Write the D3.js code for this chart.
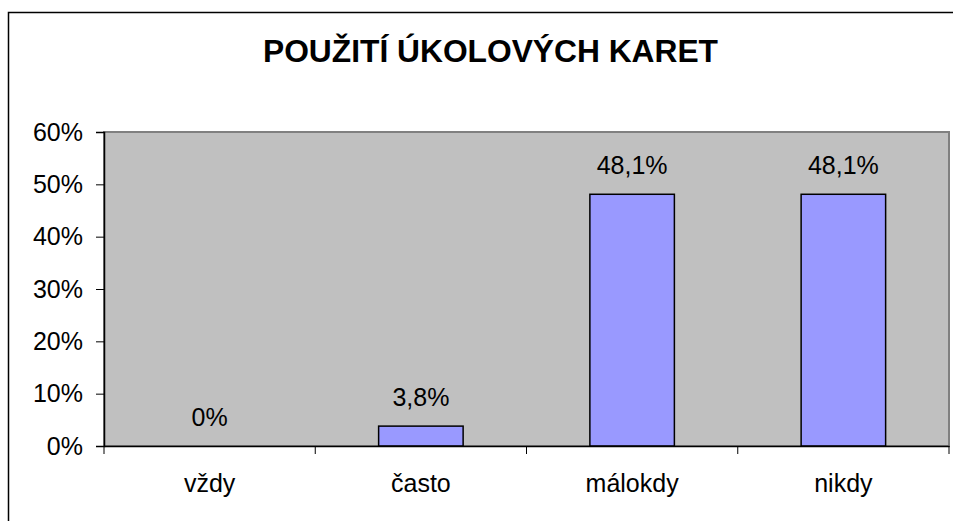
<!DOCTYPE html>
<html><head><meta charset="utf-8">
<script src="https://cdn.jsdelivr.net/npm/d3@7"></script>
<style>html,body{margin:0;padding:0;background:#fff;}svg{display:block;font-family:"Liberation Sans",Arial,sans-serif;}</style>
</head><body>
<svg id="c" width="953" height="521"></svg>
<script>
const categories = ["vždy", "často", "málokdy", "nikdy"];
const values = [0, 3.8, 48.1, 48.1];
const valueLabels = ["0%", "3,8%", "48,1%", "48,1%"];
const yTicks = [0, 10, 20, 30, 40, 50, 60];
const title = "POUŽITÍ ÚKOLOVÝCH KARET";

const svg = d3.select("#c");
const m = {left: 104, right: 949, top: 132, bottom: 446};
const FONT = "Liberation Sans, Arial, sans-serif";

// outer chart border
svg.append("rect").attr("x", 8.5).attr("y", 12.5).attr("width", 960).attr("height", 530)
  .attr("fill", "#fff").attr("stroke", "#000").attr("stroke-width", 1.5);

svg.append("text").attr("x", 490.5).attr("y", 62).attr("text-anchor", "middle")
  .attr("font-size", 32).attr("font-weight", "bold").attr("fill", "#000")
  .attr("textLength", 455).attr("lengthAdjust", "spacingAndGlyphs").text(title);

const x = d3.scaleBand().domain(categories).range([m.left, m.right]).paddingInner(0).paddingOuter(0);
const y = d3.scaleLinear().domain([0, 60]).range([m.bottom, m.top]);

// plot area
svg.append("rect").attr("x", m.left).attr("y", m.top).attr("width", m.right - m.left).attr("height", m.bottom - m.top)
  .attr("fill", "#C0C0C0").attr("stroke", "#808080").attr("stroke-width", 2);

const bw = x.bandwidth() / 2.5;
svg.selectAll("rect.bar").data(values).enter().append("rect").attr("class", "bar")
  .attr("x", (d, i) => x(categories[i]) + x.bandwidth() / 2 - bw / 2)
  .attr("y", d => y(d))
  .attr("width", bw)
  .attr("height", d => y(0) - y(d))
  .attr("fill", "#9999FF").attr("stroke", "#000").attr("stroke-width", d => d > 0 ? 1.5 : 0);

svg.selectAll("text.vl").data(values).enter().append("text").attr("class", "vl")
  .attr("x", (d, i) => x(categories[i]) + x.bandwidth() / 2)
  .attr("y", d => y(d) - 20)
  .attr("text-anchor", "middle").attr("font-size", 25).attr("fill", "#000")
  .text((d, i) => valueLabels[i]);

// y axis
const yAxis = d3.axisLeft(y).tickValues(yTicks).tickSize(8).tickPadding(13).tickFormat(d => d + "%");
const gy = svg.append("g").attr("transform", `translate(${m.left},0)`).call(yAxis);
gy.select(".domain").attr("stroke", "#000").attr("stroke-width", 1.5);
gy.selectAll(".tick line").attr("stroke", "#000");
gy.selectAll(".tick text").attr("font-size", 25).attr("font-family", FONT).attr("fill", "#000");

// x axis
const xAxis = d3.axisBottom(x).tickSize(0).tickPadding(28);
const gx = svg.append("g").attr("transform", `translate(0,${m.bottom})`).call(xAxis);
gx.select(".domain").attr("stroke", "#000").attr("stroke-width", 1.5);
gx.selectAll(".tick text").attr("font-size", 25).attr("font-family", FONT).attr("fill", "#000");
// boundary ticks
const bounds = categories.map(c => x(c)).concat([m.right]);
gx.selectAll("line.bt").data(bounds).enter().append("line").attr("class", "bt")
  .attr("x1", d => d).attr("x2", d => d).attr("y1", 0).attr("y2", 8)
  .attr("stroke", "#000").attr("stroke-width", 1);
</script>
</body></html>
